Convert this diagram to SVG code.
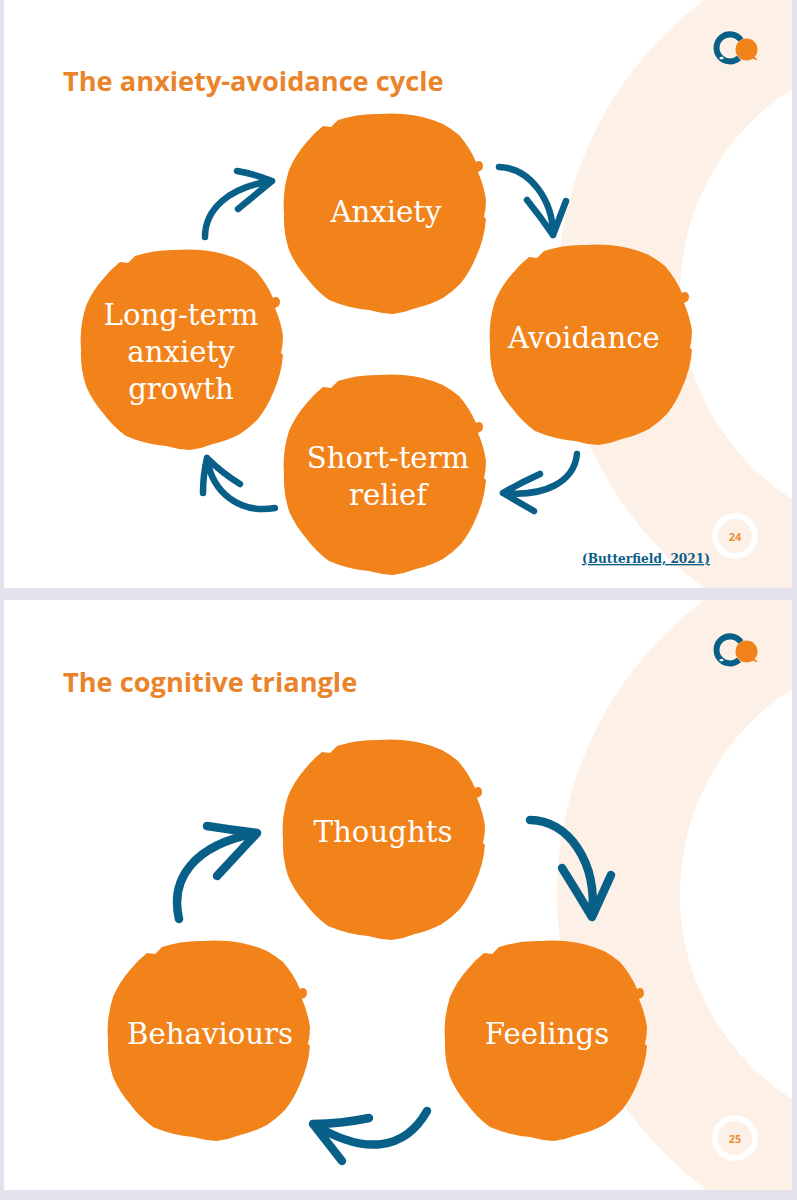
<svg xmlns="http://www.w3.org/2000/svg" width="797" height="1200" viewBox="0 0 797 1200">
<style>
.blob{fill:#f2831b}
.lbl{font-family:"DejaVu Serif","Liberation Serif",serif;font-size:29.200px;fill:#fff;text-anchor:middle}
.title{font-family:"Open Sans","Noto Sans",sans-serif;font-weight:700;font-size:27.200px;fill:#e9842a}
.arrow{fill:none;stroke:#085f88;stroke-linecap:round;stroke-linejoin:round}
.ring{fill:none;stroke:#fdf1e7;stroke-width:123}
.pg{font-family:"Open Sans","Noto Sans",sans-serif;font-weight:700;font-size:11px;fill:#ee8c3a;text-anchor:middle}
.pgring{fill:none;stroke:#fff;stroke-width:6}
</style>
<defs>
<path id="blobshape" d="M95 0 A120 120 0 0 1 119 0 A120 120 0 0 1 159 10 A100 100 0 0 1 175 21 A100 100 0 0 1 192 48 C195 46 199 47 199 52 C199 56 196 57 194 58 A110 110 0 0 1 202 86 Q202 95 200 103 L202 105 A110 110 0 0 1 192 143 A105 105 0 0 1 177 169 A100 100 0 0 1 159 184 A105 105 0 0 1 132 194 A100 100 0 0 1 109 200 A100 100 0 0 1 85 196 A130 130 0 0 1 45 186 A100 100 0 0 1 22 163 A100 100 0 0 1 5 136 A105 105 0 0 1 0 99 A110 110 0 0 1 5 56 A100 100 0 0 1 22 29 A100 100 0 0 1 39 12 L47 13 L54 6 A120 120 0 0 1 95 0Z"/>
<g id="logoshape">
<path d="M741 40 A13.500 13.500 0 1 0 739 58" fill="none" stroke="#085f88" stroke-width="6"/>
<path d="M719 58 L722 56.500 L724 58.500 L721 59.500Z" fill="#fff"/>
<circle cx="746.500" cy="49.500" r="11" fill="#f2831b"/>
<path d="M750 58 L758 60.500 L753 55Z" fill="#f2831b"/>
</g>
<clipPath id="s1"><rect x="4" y="0" width="788" height="588"/></clipPath>
<clipPath id="s2"><rect x="4" y="600" width="788" height="590"/></clipPath>
</defs>
<rect width="797" height="1200" fill="#e4e2ec"/>
<g id="slide-1-bg">
<rect x="4" y="0" width="788" height="588" fill="#fff"/>
<circle class="ring" cx="924" cy="294" r="305.500" clip-path="url(#s1)"/>
</g>
<g id="slide-2-bg">
<rect x="4" y="600" width="788" height="590" fill="#fff"/>
<circle class="ring" cx="924" cy="894" r="305.500" clip-path="url(#s2)"/>
</g>
<g id="logo-1"><use href="#logoshape"/></g>
<g id="logo-2"><use href="#logoshape" transform="translate(0,602)"/></g>
<g id="title-1"><text class="title" x="63" y="91">The anxiety-avoidance cycle</text></g>
<g id="title-2"><text class="title" x="63" y="692">The cognitive triangle</text></g>
<g id="connectors">
<g stroke-width="6.500">
<path class="arrow" d="M205 237 C205 210 228 187 272 181 M237 171 Q255 174 272 181 L238 209"/>
<path class="arrow" d="M499 167 C530 168 553 200 553 235 M527 200 Q540 216 553 235 L566 201"/>
<path class="arrow" d="M577 454 C574 482 545 497 503 493 M540 474 Q520 483 503 493 L534 511"/>
<path class="arrow" d="M275 508 C240 514 212 493 207 458 M240 484 Q222 473 207 458 Q203 475 203 493"/>
</g>
<g stroke-width="8.500">
<path class="arrow" d="M179 919 C170 880 192 845 257 833 M207 826 Q232 830 257 833 L217 876"/>
<path class="arrow" d="M530 820 C568 820 598 862 592 917 M562 868 Q577 892 592 917 L611 875"/>
<path class="arrow" d="M427 1111 C405 1150 365 1156 313 1124 M369 1118 Q340 1124 313 1124 L342 1161"/>
</g>
</g>
<g id="node-anxiety"><use href="#blobshape" class="blob" transform="translate(284,114)"/><text class="lbl" x="386" y="222">Anxiety</text></g>
<g id="node-avoidance"><use href="#blobshape" class="blob" transform="translate(490,245)"/><text class="lbl" x="584" y="348">Avoidance</text></g>
<g id="node-relief"><use href="#blobshape" class="blob" transform="translate(284,375)"/><text class="lbl" x="388" y="468">Short-term</text><text class="lbl" x="388" y="505">relief</text></g>
<g id="node-growth"><use href="#blobshape" class="blob" transform="translate(81,250)"/><text class="lbl" x="181" y="325">Long-term</text><text class="lbl" x="181" y="362">anxiety</text><text class="lbl" x="181" y="399">growth</text></g>
<g id="node-thoughts"><use href="#blobshape" class="blob" transform="translate(283,740)"/><text class="lbl" x="383" y="842">Thoughts</text></g>
<g id="node-feelings"><use href="#blobshape" class="blob" transform="translate(445,941)"/><text class="lbl" x="547" y="1044">Feelings</text></g>
<g id="node-behaviours"><use href="#blobshape" class="blob" transform="translate(108,941)"/><text class="lbl" x="210" y="1044">Behaviours</text></g>
<g id="citation"><text x="582" y="563" textLength="128" lengthAdjust="spacingAndGlyphs" text-decoration="underline" font-family="DejaVu Serif,Liberation Serif,serif" font-weight="700" font-size="13.500" fill="#0b5f87">(Butterfield, 2021)</text></g>
<g id="page-24"><circle class="pgring" cx="735" cy="536" r="20"/><text class="pg" x="735" y="541">24</text></g>
<g id="page-25"><circle class="pgring" cx="735" cy="1138" r="20"/><text class="pg" x="735" y="1143">25</text></g>
</svg>
